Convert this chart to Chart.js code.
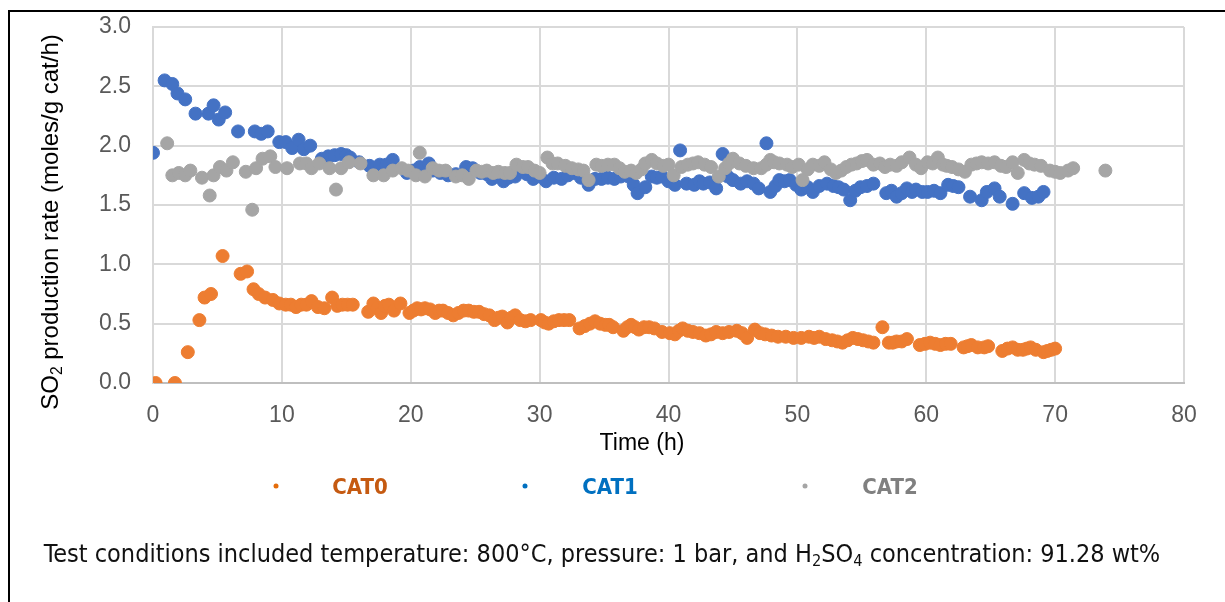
<!DOCTYPE html>
<html>
<head>
<meta charset="utf-8">
<script src="https://cdn.jsdelivr.net/npm/chart.js@4.4.1/dist/chart.umd.min.js"></script>
<style>
  body { margin: 0; background: #fff; }
  #wrap { position: relative; width: 1225px; height: 602px; overflow: hidden; background: #fff; }
  #frame { position: absolute; left: 8px; top: 10px; right: -20px; bottom: -20px;
           border-top: 2px solid #000; border-left: 2px solid #000; pointer-events: none; }
  #so2Chart { position: absolute; left: 0; top: 0; }
  .axis-title { position: absolute; white-space: nowrap; font-family: "Liberation Sans", Arial, sans-serif;
                font-size: 23px; color: #000; transform-origin: center; }
  .axis-title sub { font-size: 0.65em; vertical-align: -0.25em; line-height: 0; }
  .dot { position: absolute; width: 5px; height: 5px; border-radius: 50%; transform: translate(-50%, -50%); }
  .lbl { position: absolute; transform: translate(-50%, -50%); font-family: "Liberation Sans Narrow", "DejaVu Sans Condensed", sans-serif;
         font-weight: bold; font-size: 22px; white-space: nowrap; }
  .caption { position: absolute; left: 602px; top: 553px; transform: translate(-50%, -50%); white-space: nowrap;
             font-family: "Liberation Sans Narrow", "DejaVu Sans Condensed", sans-serif; font-size: 25px; color: #111; }
  .caption sub { font-size: 0.65em; vertical-align: -0.3em; line-height: 0; }
</style>
</head>
<body>
<div id="wrap">
  <canvas id="so2Chart" width="1225" height="460"></canvas>
  <div id="frame"></div>

  <div class="axis-title" style="left:50px;top:222px;font-size:24px;transform:translate(-50%,-50%) rotate(-90deg)">SO<sub>2</sub> production rate (moles/g cat/h)</div>
  <div class="axis-title" style="left:642px;top:442px;transform:translate(-50%,-50%)">Time (h)</div>

  <span class="dot" style="left:276px;top:486px;background:#e46c0a"></span>
  <span class="lbl" style="left:360px;top:486px;color:#c55a11">CAT0</span>
  <span class="dot" style="left:525px;top:486px;background:#0070c0"></span>
  <span class="lbl" style="left:610px;top:486px;color:#0070c0">CAT1</span>
  <span class="dot" style="left:805px;top:486px;background:#a5a5a5"></span>
  <span class="lbl" style="left:890px;top:486px;color:#808080">CAT2</span>

  <div class="caption">Test conditions included temperature: 800°C, pressure: 1 bar, and H<sub>2</sub>SO<sub>4</sub> concentration: 91.28 wt%</div>
</div>

<script>
// CAT0
const cat0Time = [0.2, 1.7, 2.7, 3.6, 4.0, 4.5, 5.4, 6.8, 7.3, 7.8, 8.2, 8.7, 9.3,
    9.8, 10.3, 10.7, 11.1, 11.5, 11.9, 12.3, 12.8, 13.3, 13.9, 14.3, 14.7, 15.1, 15.5,
    16.7, 17.1, 17.4, 17.7, 18.0, 18.3, 18.7, 19.2, 19.9, 20.2, 20.5, 20.8, 21.1, 21.5,
    21.9, 22.2, 22.5, 22.9, 23.3, 23.7, 24.1, 24.5, 24.9, 25.3, 25.7, 26.1, 26.5, 26.8,
    27.1, 27.5, 27.8, 28.1, 28.5, 28.9, 29.3, 30.1, 30.4, 30.7, 31.1, 31.5, 31.9, 32.3,
    33.1, 33.5, 33.9, 34.3, 34.7, 35.1, 35.4, 35.7, 36.5, 36.8, 37.1, 37.4, 37.7, 38.1,
    38.5, 38.9, 39.5, 40.1, 40.5, 40.8, 41.1, 41.5, 41.9, 42.4, 42.9, 43.3, 43.7, 44.2,
    44.7, 45.3, 45.7, 46.1, 46.7, 47.1, 47.5, 48.0, 48.5, 49.1, 49.7, 50.3, 50.9, 51.3,
    51.7, 52.2, 52.7, 53.1, 53.5, 53.9, 54.3, 54.7, 55.1, 55.5, 55.9, 56.6, 57.1, 57.4,
    57.7, 58.1, 58.5, 59.5, 59.9, 60.3, 60.7, 61.1, 61.5, 61.9, 62.9, 63.2, 63.5, 64.0,
    64.5, 64.8, 65.9, 66.3, 66.7, 67.1, 67.5, 67.8, 68.1, 68.5, 69.1, 69.4, 69.7, 70.0];
const cat0Rate = [0, 0, 0.26, 0.53, 0.72, 0.75, 1.07, 0.92, 0.94, 0.79, 0.75, 0.72, 0.70,
    0.67, 0.66, 0.66, 0.64, 0.66, 0.66, 0.69, 0.64, 0.63, 0.72, 0.65, 0.66, 0.66, 0.66,
    0.60, 0.67, 0.63, 0.59, 0.65, 0.66, 0.61, 0.67, 0.59, 0.61, 0.63, 0.62, 0.63, 0.62,
    0.59, 0.61, 0.61, 0.59, 0.57, 0.59, 0.61, 0.61, 0.60, 0.60, 0.58, 0.57, 0.53, 0.55,
    0.56, 0.51, 0.55, 0.57, 0.53, 0.52, 0.53, 0.53, 0.51, 0.50, 0.52, 0.53, 0.53, 0.53,
    0.46, 0.48, 0.50, 0.52, 0.50, 0.49, 0.49, 0.47, 0.44, 0.47, 0.49, 0.47, 0.45, 0.47,
    0.47, 0.46, 0.43, 0.42, 0.41, 0.44, 0.46, 0.44, 0.43, 0.42, 0.40, 0.41, 0.43, 0.42,
    0.43, 0.44, 0.42, 0.38, 0.45, 0.42, 0.41, 0.40, 0.39, 0.39, 0.38, 0.38, 0.39, 0.38,
    0.39, 0.37, 0.36, 0.35, 0.34, 0.36, 0.38, 0.37, 0.36, 0.35, 0.34, 0.47, 0.34, 0.34,
    0.35, 0.35, 0.37, 0.32, 0.33, 0.34, 0.33, 0.32, 0.33, 0.33, 0.30, 0.31, 0.32, 0.30,
    0.30, 0.31, 0.27, 0.29, 0.30, 0.28, 0.28, 0.29, 0.30, 0.28, 0.26, 0.27, 0.28, 0.29];

// CAT1
const cat1Time = [0.0, 0.9, 1.5, 1.9, 2.5, 3.3, 4.3, 4.7, 5.1, 5.6, 6.6, 7.9, 8.4, 8.9,
    9.8, 10.3, 10.8, 11.3, 11.7, 12.2, 13.1, 13.6, 14.1, 14.6, 15.0, 15.3, 16.0, 16.8,
    17.6, 18.1, 18.6, 19.7, 20.2, 20.7, 21.4, 21.7, 22.3, 22.9, 23.5, 24.3, 24.8, 25.4,
    25.9, 26.3, 26.8, 27.2, 27.6, 28.1, 28.6, 29.0, 29.5, 30.0, 30.5, 31.1, 31.7, 32.2,
    32.7, 33.2, 33.8, 34.3, 34.8, 35.3, 35.8, 36.3, 36.9, 37.3, 37.6, 38.2, 38.7, 39.1,
    39.5, 40.0, 40.5, 40.9, 41.4, 42.0, 42.4, 42.7, 43.2, 43.7, 44.2, 44.6, 45.0, 45.6,
    46.1, 46.6, 47.0, 47.6, 47.9, 48.3, 48.6, 49.0, 49.4, 49.9, 50.3, 50.8, 51.2, 51.7,
    52.3, 52.8, 53.2, 53.6, 54.1, 54.5, 54.9, 55.4, 55.9, 56.9, 57.3, 57.7, 58.1, 58.5,
    58.9, 59.2, 59.7, 60.1, 60.6, 61.1, 61.7, 62.1, 62.5, 63.4, 64.3, 64.7, 65.3, 65.7,
    66.7, 67.6, 68.2, 68.7, 69.1];
const cat1Rate = [1.94, 2.55, 2.52, 2.44, 2.39, 2.27, 2.27, 2.34, 2.22, 2.28, 2.12, 2.12, 2.10, 2.12,
    2.03, 2.03, 1.98, 2.05, 1.97, 2.00, 1.89, 1.91, 1.92, 1.93, 1.92, 1.90, 1.86, 1.83,
    1.84, 1.84, 1.88, 1.77, 1.79, 1.82, 1.85, 1.79, 1.77, 1.75, 1.76, 1.82, 1.81, 1.77,
    1.76, 1.72, 1.74, 1.70, 1.73, 1.74, 1.79, 1.76, 1.72, 1.74, 1.70, 1.73, 1.72, 1.75,
    1.77, 1.73, 1.67, 1.72, 1.72, 1.73, 1.72, 1.74, 1.74, 1.67, 1.60, 1.65, 1.74, 1.73,
    1.74, 1.70, 1.67, 1.96, 1.68, 1.67, 1.70, 1.68, 1.69, 1.64, 1.93, 1.74, 1.71, 1.68,
    1.70, 1.68, 1.64, 2.02, 1.61, 1.66, 1.71, 1.70, 1.71, 1.67, 1.63, 1.65, 1.61, 1.66,
    1.68, 1.66, 1.65, 1.63, 1.54, 1.62, 1.65, 1.66, 1.68, 1.60, 1.62, 1.57, 1.60, 1.64,
    1.61, 1.63, 1.61, 1.61, 1.62, 1.60, 1.67, 1.66, 1.65, 1.57, 1.54, 1.61, 1.64, 1.57,
    1.51, 1.60, 1.56, 1.57, 1.61];

// CAT2
const cat2Time = [1.1, 1.5, 2.0, 2.5, 2.9, 3.8, 4.4, 4.7, 5.2, 5.7, 6.2, 7.2, 7.7, 8.0, 8.5,
    9.1, 9.5, 10.4, 11.4, 11.9, 12.3, 12.9, 13.7, 14.2, 14.6, 15.2, 16.1, 17.1, 17.9,
    18.6, 19.3, 19.8, 20.4, 20.7, 21.1, 21.7, 22.2, 22.7, 23.5, 24.0, 24.5, 25.1, 25.5,
    25.9, 26.4, 26.8, 27.3, 27.7, 28.2, 28.7, 29.1, 29.6, 30.0, 30.6, 31.0, 31.4, 32.0,
    32.5, 33.0, 33.4, 33.8, 34.4, 34.8, 35.3, 35.8, 36.2, 36.6, 37.1, 37.5, 37.9, 38.2,
    38.7, 39.1, 39.6, 40.0, 40.4, 41.0, 41.5, 41.9, 42.3, 42.8, 43.3, 43.9, 44.4, 44.7,
    45.0, 45.5, 46.0, 46.6, 47.2, 47.6, 47.9, 48.2, 48.6, 49.2, 49.6, 50.1, 50.4, 50.8,
    51.2, 51.7, 52.1, 52.6, 53.0, 53.4, 53.8, 54.2, 54.6, 55.0, 55.4, 55.9, 56.4, 56.8,
    57.2, 57.7, 58.1, 58.7, 59.2, 59.6, 60.1, 60.5, 60.9, 61.3, 61.6, 62.0, 62.5, 63.0,
    63.5, 63.9, 64.3, 64.8, 65.3, 65.8, 66.2, 66.7, 67.1, 67.6, 68.0, 68.4, 68.9, 69.6,
    70.0, 70.4, 71.0, 71.4, 73.9];
const cat2Rate = [2.02, 1.75, 1.77, 1.75, 1.79, 1.73, 1.58, 1.75, 1.82, 1.79, 1.86, 1.78, 1.46, 1.81, 1.89,
    1.91, 1.82, 1.81, 1.85, 1.85, 1.81, 1.85, 1.81, 1.63, 1.81, 1.86, 1.85, 1.75, 1.75,
    1.79, 1.81, 1.79, 1.75, 1.94, 1.74, 1.81, 1.79, 1.79, 1.74, 1.75, 1.72, 1.79, 1.78,
    1.79, 1.77, 1.78, 1.77, 1.77, 1.84, 1.82, 1.82, 1.79, 1.77, 1.90, 1.85, 1.85, 1.83,
    1.81, 1.80, 1.79, 1.71, 1.84, 1.83, 1.84, 1.84, 1.81, 1.78, 1.79, 1.77, 1.80, 1.85,
    1.88, 1.85, 1.83, 1.84, 1.75, 1.82, 1.84, 1.85, 1.86, 1.84, 1.82, 1.74, 1.81, 1.85,
    1.89, 1.85, 1.83, 1.81, 1.81, 1.84, 1.88, 1.86, 1.85, 1.84, 1.82, 1.84, 1.71, 1.80,
    1.84, 1.83, 1.86, 1.80, 1.77, 1.79, 1.82, 1.84, 1.85, 1.87, 1.88, 1.84, 1.85, 1.82,
    1.84, 1.83, 1.86, 1.90, 1.84, 1.81, 1.86, 1.85, 1.90, 1.84, 1.83, 1.82, 1.80, 1.78,
    1.84, 1.85, 1.86, 1.85, 1.86, 1.83, 1.82, 1.86, 1.77, 1.88, 1.85, 1.84, 1.83, 1.79,
    1.78, 1.77, 1.79, 1.81, 1.79];

const xTicks = [0, 10, 20, 30, 40, 50, 60, 70, 80];
const yTicks = [0.0, 0.5, 1.0, 1.5, 2.0, 2.5, 3.0];

function toPoints(time, rate) {
    return time.map((t, i) => ({ x: t, y: rate[i] }));
}

const tickFont = { family: "'Liberation Sans', Arial, sans-serif", size: 23 };
const axisGrey = "#595959";

const ctx = document.getElementById("so2Chart");

new Chart(ctx, {
    type: "scatter",
    data: {
        datasets: [
            { label: "CAT0", data: toPoints(cat0Time, cat0Rate), backgroundColor: "#ed7d31", borderColor: "#ed7d31", order: 2 },
            { label: "CAT1", data: toPoints(cat1Time, cat1Rate), backgroundColor: "#4472c4", borderColor: "#4472c4", order: 1 },
            { label: "CAT2", data: toPoints(cat2Time, cat2Rate), backgroundColor: "#a5a5a5", borderColor: "#a5a5a5", order: 0 }
        ]
    },
    options: {
        responsive: false,
        animation: false,
        devicePixelRatio: 1,
        events: [],
        elements: {
            point: { radius: 6.5, borderWidth: 1 }
        },
        layout: {
            autoPadding: false,
            padding: { left: 0, right: 41, top: 27, bottom: 0 }
        },
        plugins: {
            legend: { display: false },
            tooltip: { enabled: false }
        },
        scales: {
            x: {
                type: "linear",
                min: xTicks[0],
                max: xTicks[xTicks.length - 1],
                afterBuildTicks: (scale) => { scale.ticks = xTicks.map(v => ({ value: v })); },
                afterFit: (scale) => { scale.height = 77; },
                ticks: { color: axisGrey, font: tickFont, padding: 19, maxRotation: 0 },
                grid: { color: "#d9d9d9", lineWidth: 2, drawTicks: false },
                border: { color: "#bfbfbf", width: 2 }
            },
            y: {
                min: yTicks[0],
                max: yTicks[yTicks.length - 1],
                afterBuildTicks: (scale) => { scale.ticks = yTicks.map(v => ({ value: v })); },
                afterFit: (scale) => { scale.width = 153; },
                // label gap comes from an invisible tick mark so the top padding stays small
                ticks: { color: axisGrey, font: tickFont, padding: 0, callback: (v) => Number(v).toFixed(1) },
                grid: { color: "#d9d9d9", lineWidth: 2, drawTicks: true, tickLength: 22, tickColor: "rgba(0,0,0,0)" },
                border: { color: "#d9d9d9", width: 2 }
            }
        }
    }
});
</script>
</body>
</html>
